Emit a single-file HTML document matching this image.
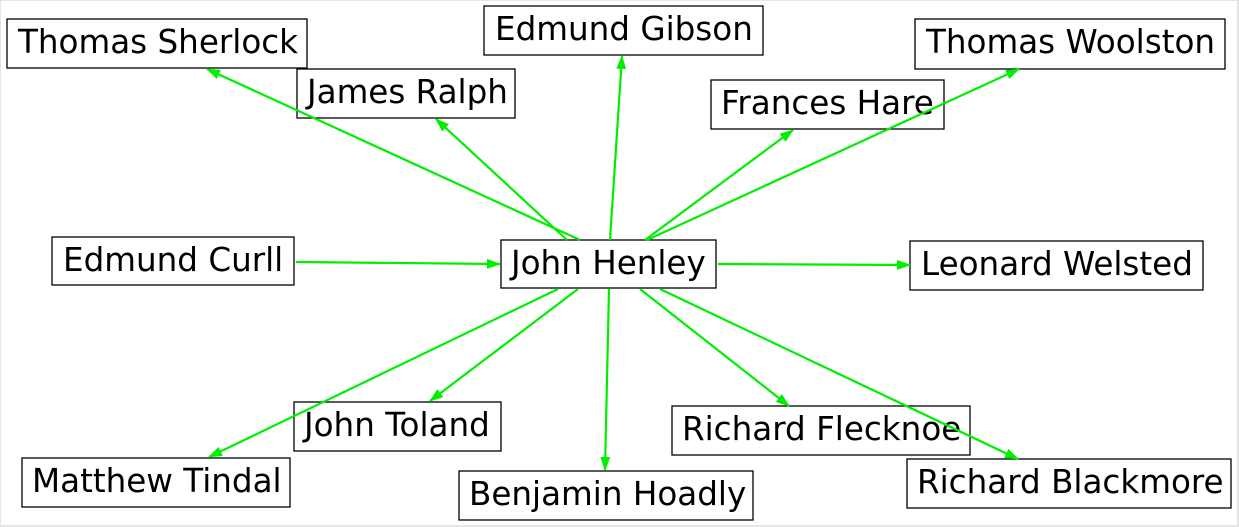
<!DOCTYPE html>
<html><head><meta charset="utf-8"><style>
html,body{margin:0;padding:0;background:#fff;}
svg{display:block;}
text{font-family:"DejaVu Sans","Liberation Sans",sans-serif;font-size:32.6px;fill:#000;}
rect{fill:#fff;stroke:#000;stroke-width:1.3;}
line{stroke:#00ee00;stroke-width:2.2;}
</style></head><body>
<svg width="1239" height="527" viewBox="0 0 1239 527" xmlns="http://www.w3.org/2000/svg">
<defs><marker id="a" markerWidth="14" markerHeight="10" refX="13" refY="5" orient="auto" markerUnits="userSpaceOnUse"><path d="M0,0 L14,5 L0,10 z" fill="#00ee00"/></marker></defs>
<rect x="0" y="0" width="1238" height="526" style="fill:#fff;stroke:#ccc;stroke-width:1"/>
<rect x="7" y="19" width="300" height="49"/><text x="18" y="53">Thomas Sherlock</text>
<rect x="484" y="6" width="279" height="49"/><text x="495" y="40">Edmund Gibson</text>
<rect x="915" y="19" width="310" height="50"/><text x="926" y="53">Thomas Woolston</text>
<rect x="297" y="69" width="218" height="49"/><text x="307" y="103">James Ralph</text>
<rect x="711" y="80" width="233" height="49"/><text x="721" y="114">Frances Hare</text>
<rect x="52" y="237" width="242" height="48"/><text x="63" y="271">Edmund Curll</text>
<rect x="501" y="240" width="215" height="48"/><text x="511" y="274">John Henley</text>
<rect x="910" y="241" width="293" height="49"/><text x="921" y="275">Leonard Welsted</text>
<rect x="294" y="402" width="207" height="49"/><text x="304" y="436">John Toland</text>
<rect x="672" y="406" width="298" height="49"/><text x="682" y="440">Richard Flecknoe</text>
<rect x="22" y="458" width="268" height="49"/><text x="32" y="492">Matthew Tindal</text>
<rect x="459" y="471" width="294" height="49"/><text x="469" y="505">Benjamin Hoadly</text>
<rect x="907" y="459" width="324" height="49"/><text x="917" y="493">Richard Blackmore</text>
<g marker-end="url(#a)">
<line x1="580" y1="240" x2="207" y2="69"/>
<line x1="567" y1="240" x2="436" y2="119"/>
<line x1="610" y1="240" x2="622" y2="56"/>
<line x1="645" y1="240" x2="793" y2="130"/>
<line x1="647" y1="240" x2="1019" y2="69"/>
<line x1="296" y1="262" x2="500" y2="264"/>
<line x1="718" y1="264" x2="910" y2="265"/>
<line x1="578" y1="289" x2="430" y2="401"/>
<line x1="558" y1="289" x2="209" y2="457"/>
<line x1="609" y1="289" x2="605" y2="470"/>
<line x1="640" y1="289" x2="789" y2="406"/>
<line x1="660" y1="289" x2="1018" y2="459"/>
</g>
</svg>
</body></html>
